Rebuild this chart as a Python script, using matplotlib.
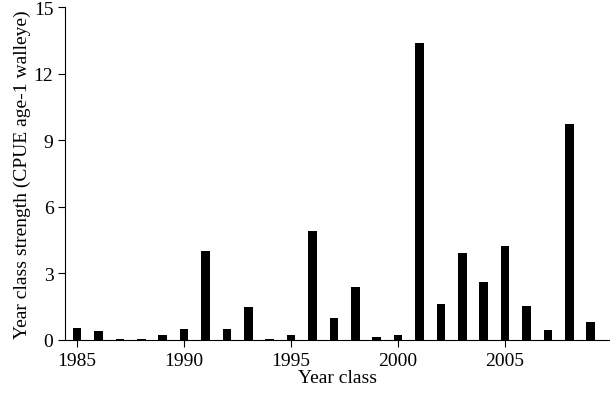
import matplotlib
matplotlib.use("Agg")
from matplotlib import pyplot as plt

years = list(range(1985, 2010))
cpue = [0.55, 0.4, 0.03, 0.03, 0.2, 0.5, 4.0, 0.5, 1.5, 0.05, 0.2, 4.9, 1.0, 2.4,
        0.15, 0.2, 13.4, 1.6, 3.9, 2.6, 4.25, 1.55, 0.45, 9.75, 0.8]

plt.rcParams['font.family'] = ['Liberation Serif']
plt.rcParams['font.size'] = 14

fig = plt.figure(figsize=(6.1, 4.02), dpi=100)
ax = fig.add_axes([0.107, 0.152, 0.893, 0.828])
ax.bar(years, cpue, width=0.4, color="black")
ax.set_xlim(1984.45, 2009.9)
ax.set_ylim(0, 15)
ax.set_yticks([0, 3, 6, 9, 12, 15])
ax.set_xticks([1985, 1990, 1995, 2000, 2005])
ax.spines['top'].set_visible(False)
ax.spines['right'].set_visible(False)
ax.tick_params(direction='out', length=5)
ax.set_xlabel("Year class", labelpad=0)
ax.set_ylabel("Year class strength (CPUE age-1 walleye)", labelpad=2)
fig.savefig("out.png", dpi=100)
